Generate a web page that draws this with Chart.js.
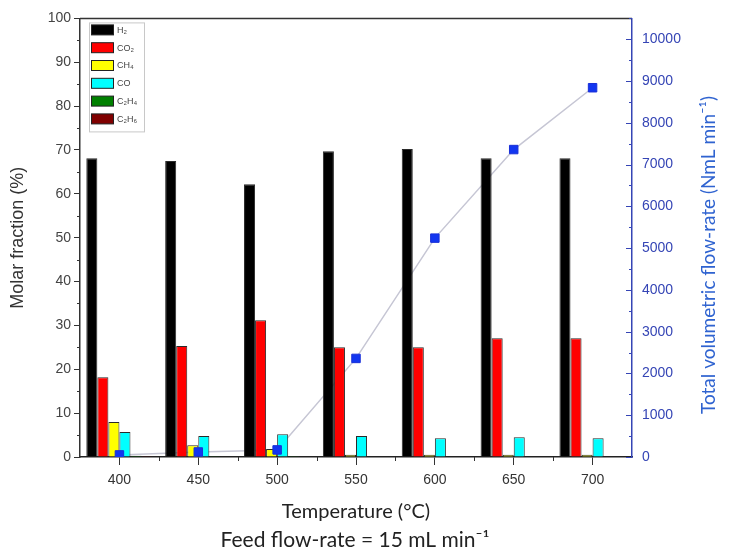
<!DOCTYPE html>
<html>
<head>
<meta charset="utf-8">
<script src="https://cdn.jsdelivr.net/npm/chart.js@4"></script>
<style>
  html, body { margin: 0; padding: 0; background: #fff; }
  canvas { display: block; }
</style>
</head>
<body>
<canvas id="myChart" width="729" height="553"></canvas>
<script>
// temperatures (°C)
const temps = ['400', '450', '500', '550', '600', '650', '700']

// molar fractions (%)
const h2 = [68.1, 67.5, 62.2, 69.7, 70.2, 68.1, 68.1]
const co2 = [18.2, 25.3, 31.2, 25.0, 25.0, 27.1, 27.1]
const ch4 = [8.0, 2.7, 1.8, 0.5, 0.5, 0.5, 0.5]
const co = [5.7, 4.8, 5.2, 4.8, 4.3, 4.5, 4.3]
const c2h4 = [0.3, 0.2, 0.2, 0.1, 0.1, 0.1, 0.1]
const c2h6 = [0.2, 0.1, 0.1, 0.1, 0.1, 0.1, 0.1]

// total volumetric flow-rate (NmL min-1)
const flow = [50, 120, 170, 2360, 5240, 7360, 8840]

// right axis tick labels
const flowTicks = [0, 1000, 2000, 3000, 4000, 5000, 6000, 7000, 8000, 9000, 10000]

const gasLabels = ['H₂', 'CO₂', 'CH₄', 'CO', 'C₂H₄', 'C₂H₆']
const gasColors = ['#000000', '#ff0000', '#ffff00', '#00ffff', '#008000', '#800000']
const gasData = [h2, co2, ch4, co, c2h4, c2h6]

const blue = '#3545b5'

const barSets = gasData.map((d, i) => ({
  type: 'bar',
  label: gasLabels[i],
  data: d,
  backgroundColor: gasColors[i],
  borderColor: '#2a2a2a',
  borderWidth: 1,
  barPercentage: 1,
  categoryPercentage: 0.84,
  yAxisID: 'y',
  order: 1
}))

// axis decorations: minor ticks, top frame, right title, feed note, legend box
const decor = {
  id: 'decor',
  afterDraw(chart) {
    const ctx = chart.ctx
    const a = chart.chartArea
    const x = chart.scales.x
    const y = chart.scales.y
    const y2 = chart.scales.y2
    ctx.save()

    // top frame line
    ctx.strokeStyle = '#333'
    ctx.lineWidth = 1.5
    ctx.beginPath()
    ctx.moveTo(a.left, a.top)
    ctx.lineTo(a.right, a.top)
    ctx.stroke()

    // left minor ticks
    ctx.lineWidth = 1
    ctx.beginPath()
    for (let v = 5; v < 100; v += 10) {
      const py = Math.round(y.getPixelForValue(v)) + 0.5
      ctx.moveTo(a.left - 3, py)
      ctx.lineTo(a.left, py)
    }
    // bottom minor ticks (between categories)
    for (let i = 0; i < temps.length - 1; i++) {
      const px = Math.round((x.getPixelForValue(i) + x.getPixelForValue(i + 1)) / 2) + 0.5
      ctx.moveTo(px, a.bottom)
      ctx.lineTo(px, a.bottom + 4)
    }
    ctx.stroke()

    // right axis ticks (inside)
    ctx.strokeStyle = blue
    ctx.lineWidth = 1.2
    ctx.beginPath()
    for (let v = 0; v <= 10500; v += 500) {
      const py = Math.round(y2.getPixelForValue(v)) + 0.5
      const len = v % 1000 === 0 ? 6 : 3
      ctx.moveTo(a.right - len, py)
      ctx.lineTo(a.right, py)
    }
    ctx.stroke()

    // feed note under the axis title
    ctx.fillStyle = '#222'
    ctx.font = '21px Lato'
    ctx.textAlign = 'center'
    ctx.textBaseline = 'middle'
    ctx.fillText('Feed flow-rate = 15 mL min⁻¹', 355, 540)

    // right axis title, reading bottom to top
    ctx.fillStyle = '#2f63d0'
    ctx.font = '19px Lato'
    ctx.translate(709, 255)
    ctx.rotate(-Math.PI / 2)
    ctx.fillText('Total volumetric flow-rate (NmL min⁻¹)', 0, 0)
    ctx.restore()

    // legend
    ctx.save()
    const lx = a.left + 9
    const ly = a.top + 4
    ctx.strokeStyle = '#c8c8c8'
    ctx.lineWidth = 1
    ctx.strokeRect(lx + 0.5, ly + 0.5, 55, 109)
    ctx.font = '9px "Liberation Sans"'
    ctx.textAlign = 'left'
    ctx.textBaseline = 'middle'
    gasLabels.forEach((lab, i) => {
      const sy = ly + 2 + i * 17.8
      ctx.fillStyle = gasColors[i]
      ctx.fillRect(lx + 2.5, sy + 0.5, 22, 10)
      ctx.strokeStyle = '#222'
      ctx.strokeRect(lx + 2.5, sy + 0.5, 22, 10)
      ctx.fillStyle = '#444'
      ctx.fillText(lab, lx + 28, sy + 6)
    })
    ctx.restore()
  }
}

new Chart(document.getElementById('myChart'), {
  data: {
    labels: temps,
    datasets: [
      ...barSets,
      {
        type: 'line',
        label: 'flow line',
        data: flow,
        yAxisID: 'y2',
        borderColor: '#c6c6d4',
        borderWidth: 1.5,
        pointRadius: 0,
        order: 2
      },
      {
        type: 'line',
        label: 'flow',
        data: flow,
        yAxisID: 'y2',
        showLine: false,
        pointStyle: 'rect',
        pointRadius: 6,
        pointBackgroundColor: '#1236f0',
        pointBorderColor: '#1a30d8',
        pointBorderWidth: 1,
        order: 0
      }
    ]
  },
  options: {
    responsive: false,
    animation: false,
    layout: { padding: { top: 18, left: 0, right: 0, bottom: 0 } },
    plugins: {
      legend: { display: false },
      tooltip: { enabled: false }
    },
    scales: {
      x: {
        type: 'category',
        offset: true,
        grid: { display: true, drawOnChartArea: false, drawTicks: true, tickLength: 8, color: '#333', offset: false },
        border: { color: '#222', width: 1.5 },
        ticks: { color: '#333', font: { family: 'Liberation Sans', size: 14 }, padding: 7, maxRotation: 0 },
        title: {
          display: true,
          text: 'Temperature (°C)',
          color: '#222',
          font: { family: 'Lato', size: 20 },
          padding: { top: 0, bottom: 29 }
        },
        afterFit(scale) { scale.height = 96 }
      },
      y: {
        type: 'linear',
        position: 'left',
        min: 0,
        max: 100,
        grid: { display: true, drawOnChartArea: false, drawTicks: true, tickLength: 6, color: '#333' },
        border: { color: '#333', width: 1.5 },
        ticks: { stepSize: 10, color: '#444', font: { family: 'Liberation Sans', size: 14 }, padding: 3 },
        title: {
          display: true,
          text: 'Molar fraction (%)',
          color: '#333',
          font: { family: 'Liberation Sans', size: 18 },
          padding: { top: 7, bottom: 0 }
        },
        afterFit(scale) { scale.width = 80 }
      },
      y2: {
        type: 'linear',
        position: 'right',
        min: 0,
        max: 10500,
        grid: { display: true, drawOnChartArea: false, drawTicks: false, color: blue },
        border: { color: blue, width: 1.5 },
        ticks: {
          color: blue,
          font: { family: 'Liberation Sans', size: 14 },
          padding: 10,
          callback: v => String(v)
        },
        afterBuildTicks(scale) { scale.ticks = flowTicks.map(v => ({ value: v })) },
        afterFit(scale) { scale.width = 97 }
      }
    }
  },
  plugins: [decor]
})
</script>
</body>
</html>
